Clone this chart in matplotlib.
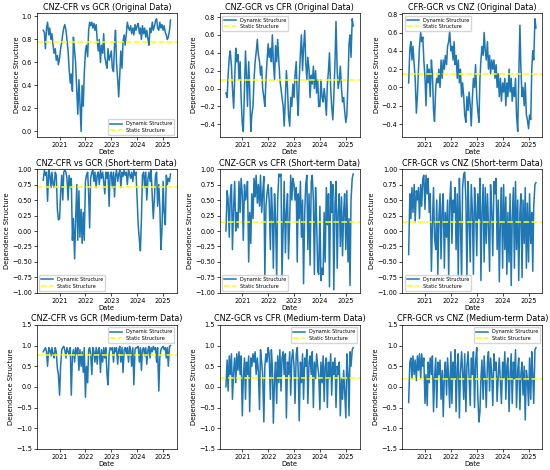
import numpy as np
import pandas as pd
import matplotlib
matplotlib.use("Agg")
import matplotlib.pyplot as plt

# semi-monthly observations, 2020-05-15 .. 2025-04-15
START = "2020-05-15"

# ---- original data ----
orig_cnz_cfr = [
    0.88, 0.86, 0.72, 0.9, 0.95, 0.84, 0.9, 0.8, 0.85, 0.75, 0.68, 0.72, 0.62, 0.66, 0.58,
    0.64, 0.72, 0.78, 0.85, 0.9, 0.93, 0.88, 0.8, 0.7, 0.55, 0.42, 0.5, 0.35, 0.82, 0.7, 0.6, 0.35, 0.15, 0.45, 0.25, 0.0, 0.4, 0.22, 0.5,
    0.7, 0.75, 0.65, 0.88, 0.95, 0.92, 0.95, 0.9, 0.94, 0.88, 0.93, 0.8, 0.7, 0.8, 0.6, 0.75, 0.68, 0.85, 0.65, 0.6, 0.55, 0.72, 0.62, 0.65,
    0.7, 0.55, 0.52, 0.75, 0.88, 0.6, 0.45, 0.3, 0.5, 0.7, 0.55, 0.78, 0.84, 0.75, 0.85, 0.95, 0.9, 0.88, 0.92, 0.85, 0.9, 0.84, 0.93, 0.88,
    0.92, 0.94, 0.85, 0.9, 0.8, 0.92, 0.85, 0.9, 0.82, 0.88, 0.8, 0.75, 0.9, 0.86, 0.95, 0.88, 0.92, 0.96, 0.98, 0.9, 0.88, 0.95, 0.9, 0.93,
    0.88, 0.92, 0.86, 0.84, 0.8, 0.82, 0.88, 0.97]
orig_cnz_gcr = [
    -0.05, -0.1, 0.15, 0.35, 0.42, 0.25, 0.0, -0.22, 0.1, 0.45, 0.3, 0.38, 0.1, 0.3, -0.1,
    -0.4, -0.48, 0.0, 0.42, 0.15, -0.2, 0.3, 0.0, -0.48, -0.3, -0.2, 0.1, 0.3, 0.4, 0.55, 0.38, 0.3, 0.15, 0.25, 0.0, -0.1, -0.2, 0.1, 0.3,
    0.5, 0.35, 0.45, 0.3, 0.6, 0.3, 0.1, 0.48, 0.3, 0.55, 0.3, 0.1, 0.0, -0.1, -0.2, -0.42, -0.1, 0.2, 0.0, -0.3, -0.42, -0.1, -0.2, 0.05,
    -0.1, 0.15, 0.3, -0.1, -0.3, 0.1, 0.4, 0.6, 0.2, 0.45, 0.65, 0.3, 0.1, 0.35, 0.2, -0.1, 0.15, 0.05, 0.25, 0.0, 0.2, -0.05, 0.1, -0.2,
    -0.2, 0.1, -0.1, -0.15, 0.0, -0.1, -0.3, 0.05, 0.2, 0.4, 0.0, -0.2, -0.35, -0.1, 0.3, 0.75, 0.2, 0.0, 0.1, 0.25, 0.0, -0.15, -0.1, -0.25,
    -0.38, -0.3, 0.1, 0.5, 0.6, 0.35, 0.78, 0.7]
orig_cfr_gcr = [
    0.05, 0.42, 0.5, 0.3, 0.45, 0.25, 0.1, -0.28, -0.1, 0.2, 0.45, 0.6, 0.5, 0.55, 0.3,
    0.1, -0.2, 0.25, 0.05, 0.2, -0.1, 0.3, 0.15, -0.25, -0.37, 0.0, 0.1, 0.05, 0.2, 0.0, 0.3, 0.1, 0.3, 0.2, 0.35, 0.25, 0.45, 0.5, 0.62,
    0.4, 0.45, 0.3, 0.5, 0.25, 0.35, 0.1, 0.3, 0.05, 0.2, -0.1, 0.05, -0.1, -0.3, -0.38, -0.1, -0.25, -0.05, -0.2, -0.42, -0.1, 0.1, 0.0, 0.25,
    -0.1, -0.25, -0.38, 0.1, 0.3, 0.45, 0.35, 0.6, 0.4, 0.3, 0.5, 0.2, 0.35, 0.15, 0.3, 0.2, 0.3, 0.1, 0.25, 0.0, 0.15, -0.1, 0.1, -0.15,
    0.05, -0.05, 0.1, -0.2, 0.05, -0.1, 0.2, -0.05, 0.1, -0.15, 0.0, -0.1, 0.1, -0.3, -0.48, 0.1, 0.68, 0.2, -0.1, 0.0, -0.2, 0.05, -0.3, -0.35,
    -0.45, -0.3, -0.35, 0.2, 0.4, 0.3, 0.75, 0.65]

# ---- short-term data ----
short_cnz_cfr = [
    0.82, 0.98, 0.9, 0.95, 0.48, 0.98, 0.92, 0.7, 0.95, 0.75, 0.7, 0.95, 0.9, 0.35, 0.18,
    0.2, 0.6, 0.9, 0.5, 0.95, 0.98, 0.95, 0.85, 0.5, 0.9, 0.7, 0.85, -0.15, 0.2, -0.45, 0.15, 0.75, -0.15, 0.65, -0.1, 0.35, -0.2, 0.3, -0.15,
    0.8, 0.9, 0.95, 0.6, 0.05, 0.85, 0.95, 0.98, 0.8, 0.95, 0.7, 0.9, 0.95, 0.75, 0.98, 0.85, 0.95, 0.8, 0.6, 0.95, 0.85, 0.95, 0.4, 0.9,
    0.95, 0.7, 0.95, 0.55, 0.9, 0.98, 0.8, 0.92, 0.98, 0.7, 0.95, 0.88, 0.98, 0.9, 0.95, 0.75, 0.98, 0.92, 0.85, 0.95, 0.8, 0.98, 0.9, 0.95,
    0.5, 0.1, -0.15, -0.32, 0.2, 0.9, 0.95, 0.7, 0.95, 0.5, 0.85, 0.95, 0.8, 0.98, 0.55, 0.2, 0.55, 0.9, 0.95, 0.4, 0.75, 0.4, -0.3, 0.0,
    0.8, 0.3, 0.1, 0.9, 0.75, 0.85, 0.8, 0.92]
short_cnz_gcr = [
    0.0, 0.65, 0.5, -0.1, 0.55, 0.75, -0.3, 0.4, 0.8, 0.0, 0.3, 0.05, 0.8, 0.3, 0.85,
    0.6, -0.15, 0.75, 0.5, 0.6, 0.8, -0.5, 0.3, -0.2, 0.6, 0.2, 0.85, 0.55, 0.9, 0.45, 0.75, 0.4, 0.9, 0.3, 0.6, 0.88, -0.75, 0.4, 0.6,
    0.75, 0.5, -0.3, 0.7, 0.3, -0.6, 0.6, 0.2, -0.75, 0.5, 0.92, 0.88, 0.92, -0.75, 0.1, 0.8, -0.35, 0.3, 0.6, -0.45, 0.2, 0.9, 0.5, 0.85,
    0.75, 0.5, 0.7, -0.5, 0.6, 0.2, 0.8, -0.1, 0.5, -0.85, 0.3, 0.75, 0.9, -0.3, 0.6, -0.55, 0.8, 0.9, 0.5, -0.7, 0.7, 0.2, -0.65, -0.7,
    0.4, -0.8, -0.6, -0.7, 0.3, -0.5, 0.7, 0.1, 0.6, -0.9, 0.8, 0.3, 0.75, -0.95, 0.45, 0.8, -0.6, 0.3, 0.6, -0.25, 0.55, -0.4, 0.3, 0.6,
    -0.3, 0.65, -0.5, 0.2, -0.88, 0.5, 0.85, 0.92]
short_cfr_gcr = [
    -0.38, 0.6, 0.2, 0.7, 0.3, 0.75, 0.15, 0.65, 0.5, 0.7, 0.2, 0.75, 0.4, 0.85, 0.9,
    0.35, 0.9, 0.6, 0.85, 0.3, 0.6, -0.65, 0.1, 0.7, -0.1, -0.3, 0.5, -0.7, 0.2, 0.6, -0.45, 0.4, 0.6, -0.6, 0.3, -0.1, 0.5, -0.75, 0.45,
    0.8, -0.2, 0.5, 0.3, 0.7, -0.3, 0.6, -0.75, 0.85, 0.2, -0.8, 0.7, 0.92, 0.95, 0.5, -0.75, 0.8, 0.2, -0.5, 0.75, 0.3, -0.7, 0.7, 0.4,
    -0.4, 0.6, 0.2, 0.85, -0.8, 0.3, 0.75, -0.5, 0.7, -0.2, 0.6, 0.1, -0.65, 0.75, 0.3, -0.4, 0.8, 0.6, 0.85, -0.3, 0.5, -0.82, 0.2, 0.7,
    -0.6, 0.75, -0.3, 0.55, -0.7, 0.3, -0.5, 0.6, -0.88, 0.2, 0.7, -0.6, 0.8, -0.3, 0.5, -0.8, 0.3, 0.6, -0.75, 0.5, -0.2, 0.7, -0.6, 0.45,
    -0.5, 0.6, -0.2, 0.3, -0.65, 0.4, 0.75, 0.78]

# ---- medium-term data ----
med_cnz_cfr = [
    0.85, 0.9, 0.95, 0.85, 0.5, 0.95, 0.9, 0.75, 0.95, 0.8, 0.7, 0.95, 0.85, 0.45, 0.3,
    -0.2, 0.5, 0.9, 0.95, 0.98, 0.9, 0.7, 0.95, 0.85, 0.8, 0.95, -0.2, 0.75, 0.9, 0.6, 0.95, 0.8, 0.95, 0.4, 0.9, 0.5, 0.85, 0.35, 0.95,
    -0.25, 0.5, 0.1, 0.9, 0.95, 0.8, 0.3, 0.95, 0.85, 0.6, 0.95, 0.55, 0.9, 0.95, 0.35, 0.9, 0.6, 0.95, 0.7, 0.95, 0.3, 0.05, 0.8, 0.95,
    0.9, 0.95, 0.6, 0.95, 0.85, 0.95, 0.55, 0.9, 0.98, 0.6, 0.95, 0.35, 0.9, 0.95, 0.8, 0.95, 0.6, 0.98, 0.9, 0.5, 0.95, 0.05, 0.9, 0.95,
    0.95, 0.98, 0.6, 0.95, 0.4, 0.9, 0.95, 0.75, 0.95, 0.55, 0.9, 0.98, 0.7, 0.95, 0.85, 0.98, 0.9, 0.95, 0.6, 0.95, -0.1, 0.7, 0.9, 0.95,
    0.98, 0.9, 0.95, 0.7, 0.95, 0.5, 0.98, 1.0]
med_cnz_gcr = [
    0.0, 0.65, -0.1, 0.75, 0.3, 0.8, -0.3, 0.4, 0.7, 0.1, 0.8, 0.4, 0.85, 0.3, 0.75,
    -0.7, 0.2, 0.7, -0.3, 0.6, 0.3, 0.75, -0.6, 0.7, 0.5, 0.8, 0.6, 0.85, 0.3, 0.7, 0.4, -0.55, 0.9, 0.6, 0.3, -0.85, 0.5, 0.8, 0.6,
    0.95, 0.8, -0.3, 0.9, 0.5, -0.88, 0.2, 0.6, -0.4, 0.75, 0.1, 0.9, -0.1, 0.7, 0.85, 0.3, 0.8, -0.75, 0.6, 0.3, 0.85, -0.2, 0.7, 0.9,
    0.5, -0.4, 0.8, 0.95, 0.4, -0.82, 0.6, 0.1, 0.8, -0.3, 0.7, 0.5, 0.9, -0.4, 0.6, 0.75, 0.3, 0.85, -0.5, 0.6, 0.2, 0.8, 0.5, 0.3,
    -0.55, 0.6, 0.1, 0.75, -0.35, 0.5, 0.7, -0.5, 0.6, 0.2, 0.8, -0.2, 0.6, 0.3, 0.7, -0.5, 0.5, 0.3, 0.6, -0.7, 0.2, -0.3, 0.4, -0.1,
    -0.75, 0.8, 0.3, -0.7, 0.85, 0.5, 0.9, 0.95]
med_cfr_gcr = [
    -0.38, 0.6, 0.7, 0.2, 0.75, 0.3, 0.65, 0.15, 0.75, 0.4, 0.8, 0.2, 0.8, 0.5, 0.7,
    -0.4, 0.3, -0.45, 0.6, 0.1, 0.7, 0.3, 0.75, -0.6, 0.2, 0.7, -0.5, 0.6, 0.3, 0.65, -0.3, 0.4, -0.72, 0.3, 0.6, -0.2, 0.7, 0.2, -0.5,
    0.85, -0.4, 0.6, 0.2, 0.9, -0.6, 0.5, 0.8, -0.75, 0.3, 0.85, 0.4, -0.3, 0.8, -0.6, 0.5, 0.85, 0.2, -0.45, 0.7, 0.3, 0.85, -0.5, 0.6,
    0.95, -0.2, -0.85, -0.6, 0.2, 0.65, -0.3, 0.75, 0.2, -0.5, 0.6, 0.85, -0.1, 0.7, 0.3, -0.45, 0.8, 0.4, 0.6, -0.35, 0.3, 0.7, 0.1, -0.4,
    0.6, 0.2, 0.85, -0.3, 0.5, 0.7, -0.6, 0.3, 0.8, -0.4, 0.6, 0.2, 0.9, -0.5, 0.4, 0.7, -0.55, 0.3, 0.6, -0.2, 0.5, -0.8, 0.4, 0.2,
    -0.45, 0.7, -0.3, 0.85, 0.3, -0.4, 0.9, 0.95]

static_vals = [0.78, 0.09, 0.15, 0.71, 0.14, 0.14, 0.77, 0.22, 0.2]

titles = ["CNZ-CFR vs GCR (Original Data)", "CNZ-GCR vs CFR (Original Data)", "CFR-GCR vs CNZ (Original Data)",
          "CNZ-CFR vs GCR (Short-term Data)", "CNZ-GCR vs CFR (Short-term Data)", "CFR-GCR vs CNZ (Short-term Data)",
          "CNZ-CFR vs GCR (Medium-term Data)", "CNZ-GCR vs CFR (Medium-term Data)", "CFR-GCR vs CNZ (Medium-term Data)"]
series = [orig_cnz_cfr, orig_cnz_gcr, orig_cfr_gcr,
          short_cnz_cfr, short_cnz_gcr, short_cfr_gcr,
          med_cnz_cfr, med_cnz_gcr, med_cfr_gcr]
legend_loc = ["lower right", "upper left", "upper left",
              "lower left", "lower left", "lower left",
              "upper right", "upper right", "upper right"]

fig, axes = plt.subplots(3, 3, figsize=(5.5, 4.7), dpi=100)
fig.subplots_adjust(left=0.067, right=0.986, bottom=0.045, top=0.972, wspace=0.305, hspace=0.258)

for i, ax in enumerate(axes.flat):
    vals = np.array(series[i])
    dates = pd.date_range(START, periods=len(vals), freq="SMS")
    ax.plot(dates, vals, color="#1f77b4", lw=1.1, label="Dynamic Structure")
    ax.axhline(static_vals[i], color="yellow", ls="--", lw=1.1, label="Static Structure")
    ax.set_title(titles[i], fontsize=5.8, pad=2.5)
    ax.set_xlabel("Date", fontsize=4.9, labelpad=1)
    ax.set_ylabel("Dependence Structure", fontsize=4.9, labelpad=1.5)
    ax.tick_params(labelsize=4.7, length=2, width=0.5, pad=1.5)
    for s in ax.spines.values():
        s.set_linewidth(0.5)
    row = i // 3
    if row == 1:
        ax.set_ylim(-1.0, 1.0)
    elif row == 2:
        ax.set_ylim(-1.5, 1.5)
    ax.legend(loc=legend_loc[i], fontsize=3.5, frameon=True, handlelength=2.5, borderpad=0.4, labelspacing=0.3)

fig.savefig("out.png", dpi=100)
